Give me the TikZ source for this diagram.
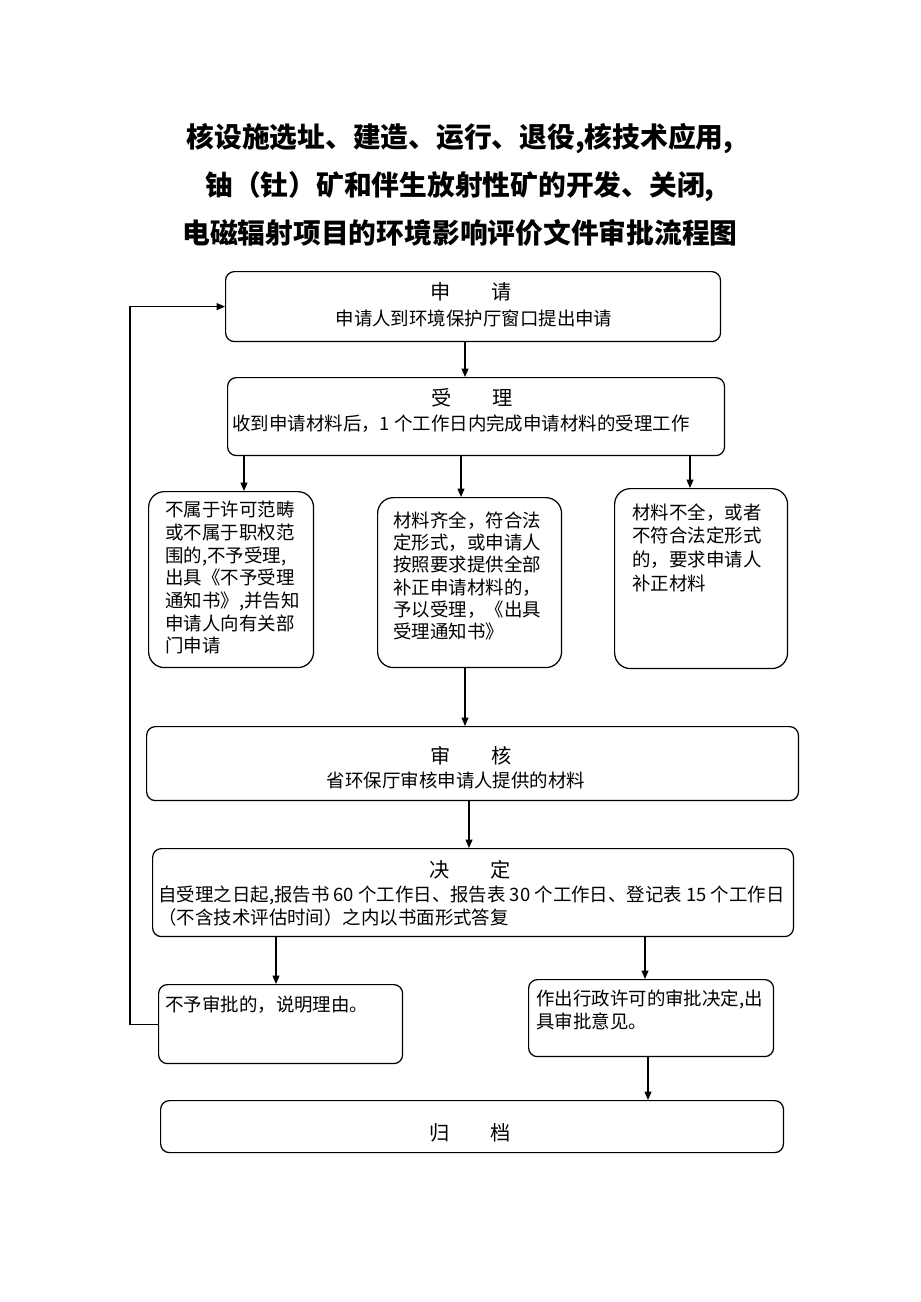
\documentclass[tikz,border=0pt]{standalone}
\usepackage{fontspec}
\setmainfont{Noto Sans CJK SC}
\usetikzlibrary{arrows.meta,positioning,calc}
\tikzset{
  box/.style={
    draw=black, line width=0.7pt, rounded corners=5pt,
    inner sep=0pt, anchor=north west
  },
  card/.style={box, rounded corners=9pt},
  head/.style={inner sep=0pt, font=\fontsize{11.5}{13}\selectfont},
  txt/.style={inner sep=0pt, align=left, anchor=north west, font=\fontsize{10.5}{12.9}\selectfont},
  line/.style={inner sep=0pt, font=\fontsize{10.5}{12.9}\selectfont},
  arrow/.style={-{Triangle[length=1.7mm,width=1.4mm]}, line width=0.7pt}
}

\begin{document}
\begin{tikzpicture}[x=0.02cm, y=-0.02cm]
  \useasboundingbox (0,0) rectangle (920,1302);
  % title
  \node[inner sep=0pt, align=center, font=\bfseries\fontsize{15.8}{27.5}\selectfont] (title) at (460,185)
    {核设施选址、建造、运行、退役,核技术应用,\\铀（钍）矿和伴生放射性矿的开发、关闭,\\电磁辐射项目的环境影响评价文件审批流程图};
  % boxes
  \node[box, minimum width=9.9cm, minimum height=1.4cm] (apply) at (225,271) {};
  \node[box, minimum width=9.94cm, minimum height=1.56cm] (accept) at (227,377) {};
  \node[card, minimum width=3.3cm, minimum height=3.52cm] (reject) at (148,491) {};
  \node[card, minimum width=3.68cm, minimum height=3.4cm] (ok) at (377,497) {};
  \node[card, minimum width=3.46cm, minimum height=3.6cm] (fix) at (614,488) {};
  \node[box, minimum width=13.04cm, minimum height=1.48cm] (review) at (146,726) {};
  \node[box, minimum width=12.82cm, minimum height=1.76cm] (decide) at (152,848) {};
  \node[box, minimum width=4.88cm, minimum height=1.58cm] (deny) at (158,984) {};
  \node[box, minimum width=4.9cm, minimum height=1.54cm] (approve) at (528,979) {};
  \node[box, minimum width=12.46cm, minimum height=1.04cm] (archive) at (160,1100) {};
  % texts
  \node[head] (applyhead) at (471,292) {申\hspace{2em}请};
  \node[line] (applytext) at (474,318) {申请人到环境保护厅窗口提出申请};
  \node[head] (accepthead) at (472,398) {受\hspace{2em}理};
  \node[line, anchor=west] (accepttext) at (232,424) {收到申请材料后，1 个工作日内完成申请材料的受理工作};
  \node[txt] (rejecttext) at (165,501) {不属于许可范畴\\或不属于职权范\\围的,不予受理,\\出具《不予受理\\通知书》,并告知\\申请人向有关部\\门申请};
  \node[txt, font=\fontsize{10.5}{12.7}\selectfont] (oktext) at (393,511) {材料齐全，符合法\\定形式，或申请人\\按照要求提供全部\\补正申请材料的，\\予以受理，《出具\\受理通知书》};
  \node[txt, font=\fontsize{10.5}{13.6}\selectfont] (fixtext) at (632,503) {材料不全，或者\\不符合法定形式\\的，要求申请人\\补正材料};
  \node[head] (reviewhead) at (471,756) {审\hspace{2em}核};
  \node[line] (reviewtext) at (456,780) {省环保厅审核申请人提供的材料};
  \node[head] (decidehead) at (470,870) {决\hspace{2em}定};
  \node[txt, font=\fontsize{10.5}{13}\selectfont] (decidetext) at (158,886) {自受理之日起,报告书 60 个工作日、报告表 30 个工作日、登记表 15 个工作日\\（不含技术评估时间）之内以书面形式答复};
  \node[txt] (denytext) at (165,996) {不予审批的，说明理由。};
  \node[txt, font=\fontsize{10.5}{13}\selectfont] (approvetext) at (536,990) {作出行政许可的审批决定,出\\具审批意见。};
  \node[head] (archivehead) at (470,1133) {归\hspace{2em}档};
  % connectors
  \draw[arrow] (apply.south -| 465,0) -- (accept.north -| 465,0);
  \draw[arrow] (accept.south -| 244,0) -- (reject.north -| 244,0);
  \draw[arrow] (accept.south -| 461,0) -- (ok.north -| 461,0);
  \draw[arrow] (accept.south -| 690,0) -- (fix.north -| 690,0);
  \draw[arrow] (ok.south -| 465,0) -- (review.north -| 465,0);
  \draw[arrow] (review.south -| 469,0) -- (decide.north -| 469,0);
  \draw[arrow] (decide.south -| 276,0) -- (deny.north -| 276,0);
  \draw[arrow] (decide.south -| 645,0) -- (approve.north -| 645,0);
  \draw[arrow] (approve.south -| 648,0) -- (archive.north -| 648,0);
  \draw[arrow] (deny.west) -- (deny.west -| 130,0) |- (apply.west);
\end{tikzpicture}
\end{document}
